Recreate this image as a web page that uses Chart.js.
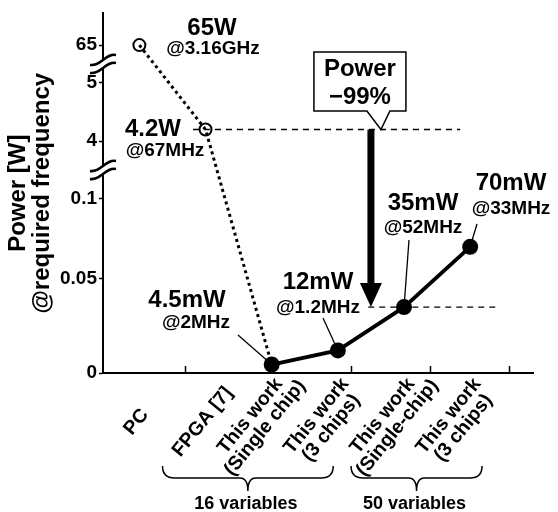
<!DOCTYPE html>
<html lang="en">
<head>
<meta charset="UTF-8">
<title>Power comparison</title>
<script src="https://cdn.jsdelivr.net/npm/chart.js@4"></script>
<style>
  body { margin: 0; background: #fff; }
  #wrap { width: 558px; height: 512px; position: relative; }
</style>
</head>
<body>
<div id="wrap"><canvas id="powerChart"></canvas></div>
<script>
// data
const categories = [['PC'], ['FPGA [7]'], ['This work', '(Single chip)'], ['This work', '(3 chips)'],
                    ['This work', '(Single-chip)'], ['This work', '(3 chips)']];
const conventionalPower = [65, 4.2, 0.0045, null, null, null];   // W
const thisWorkPower = [null, null, 0.0045, 0.012, 0.035, 0.07];  // W
const powerLabels = ['65W', '4.2W', '4.5mW', '12mW', '35mW', '70mW'];
const freqLabels = ['@3.16GHz', '@67MHz', '@2MHz', '@1.2MHz', '@52MHz', '@33MHz'];
const yTicks = [0, 0.05, 0.1, 4, 5, 65];
const groupNames = ['16 variables', '50 variables'];

Chart.defaults.font.family = '"Liberation Sans", Arial, sans-serif';

// broken y axis: value -> fraction of axis height
const yBreakMap = [[0, 0], [0.05, 0.2617], [0.1, 0.4848], [4, 0.6446], [5, 0.8072], [65, 0.9118], [80, 1]];

class BrokenScale extends Chart.LinearScale {
  getPixelForValue(value) {
    if (value === null || value === undefined || isNaN(value)) return NaN;
    const m = yBreakMap;
    let f = value <= m[0][0] ? m[0][1] : m[m.length - 1][1];
    for (let i = 1; i < m.length; i++) {
      if (value >= m[i - 1][0] && value <= m[i][0]) {
        f = m[i - 1][1] + (value - m[i - 1][0]) / (m[i][0] - m[i - 1][0]) * (m[i][1] - m[i - 1][1]);
        break;
      }
    }
    return this.getPixelForDecimal(f);
  }
  getValueForPixel(pixel) {
    const f = this.getDecimalForPixel(pixel);
    const m = yBreakMap;
    for (let i = 1; i < m.length; i++) {
      if (f <= m[i][1]) return m[i - 1][0] + (f - m[i - 1][1]) / (m[i][1] - m[i - 1][1]) * (m[i][0] - m[i - 1][0]);
    }
    return m[m.length - 1][0];
  }
}
BrokenScale.id = 'broken';
Chart.register(BrokenScale);

const xDividers = [0.7, 3.2, 4.4, 5.6];
const bold = (size) => `bold ${size}px "Liberation Sans", Arial, sans-serif`;

// text positions of the value annotations [x, y of power, x, y of freq]
const labelPos = [[212, 28, 213, 49], [153, 129, 165, 151], [187, 300, 196, 323],
                  [318, 282, 318, 308], [423, 203, 423, 228], [511, 183, 511, 209]];
const leaderFrom = [null, null, [238, 335], [323, 318], [409, 240], [477, 224]];

function drawBreak(ctx, x, y) {
  const top = (dy) => [[x - 13, y + 5 + dy], [x - 3, y + 7 + dy], [x + 3, y - 7 + dy], [x + 13, y - 5 + dy]];
  const a = top(-4), b = top(4);
  ctx.save();
  ctx.fillStyle = '#fff';
  ctx.beginPath();
  ctx.moveTo(...a[0]); ctx.bezierCurveTo(...a[1], ...a[2], ...a[3]);
  ctx.lineTo(...b[3]); ctx.bezierCurveTo(...b[2], ...b[1], ...b[0]);
  ctx.closePath();
  ctx.fill();
  ctx.strokeStyle = '#000';
  ctx.lineWidth = 2.5;
  for (const c of [a, b]) {
    ctx.beginPath();
    ctx.moveTo(...c[0]); ctx.bezierCurveTo(...c[1], ...c[2], ...c[3]);
    ctx.stroke();
  }
  ctx.restore();
}

function drawBrace(ctx, x1, x2, y) {
  const mid = (x1 + x2) / 2;
  ctx.beginPath();
  ctx.moveTo(x1, y);
  ctx.quadraticCurveTo(x1, y + 12, x1 + 12, y + 12);
  ctx.lineTo(mid - 8, y + 12);
  ctx.quadraticCurveTo(mid, y + 12, mid, y + 25);
  ctx.quadraticCurveTo(mid, y + 12, mid + 8, y + 12);
  ctx.lineTo(x2 - 12, y + 12);
  ctx.quadraticCurveTo(x2, y + 12, x2, y);
  ctx.stroke();
}

const annotate = {
  id: 'annotate',
  beforeDatasetsDraw(chart) {
    const { ctx, scales: { x, y } } = chart;
    ctx.save();
    ctx.strokeStyle = '#000';
    ctx.lineWidth = 1.3;
    ctx.setLineDash([6, 5]);
    const refs = [[conventionalPower[1], 0.81, 4.85], [thisWorkPower[4], 3.46, 5.38]];
    for (const [v, a, b] of refs) {
      ctx.beginPath();
      ctx.moveTo(x.getPixelForValue(a), y.getPixelForValue(v));
      ctx.lineTo(x.getPixelForValue(b), y.getPixelForValue(v));
      ctx.stroke();
    }
    ctx.restore();
  },
  afterDatasetsDraw(chart) {
    const { ctx, scales: { x, y } } = chart;
    ctx.save();
    ctx.fillStyle = '#000';
    ctx.strokeStyle = '#000';

    // value labels
    ctx.textAlign = 'center';
    ctx.textBaseline = 'middle';
    powerLabels.forEach((t, i) => {
      const p = labelPos[i];
      ctx.font = bold(24);
      ctx.fillText(t, p[0], p[1]);
      ctx.font = bold(19);
      ctx.fillText(freqLabels[i], p[2], p[3]);
      if (leaderFrom[i]) {
        const v = conventionalPower[i] ?? thisWorkPower[i];
        const px = x.getPixelForValue(i), py = y.getPixelForValue(thisWorkPower[i] ?? v);
        ctx.lineWidth = 1.3;
        ctx.beginPath();
        ctx.moveTo(...leaderFrom[i]);
        ctx.lineTo(px, py);
        ctx.stroke();
      }
    });

    // big arrow 4.2W -> 35mW
    const ax = x.getPixelForValue(3.5);
    const ay0 = y.getPixelForValue(conventionalPower[1]);
    const ay1 = y.getPixelForValue(thisWorkPower[4]);
    ctx.fillRect(ax - 3.5, ay0, 7, ay1 - ay0 - 22);
    ctx.beginPath();
    ctx.moveTo(ax - 11, ay1 - 24);
    ctx.lineTo(ax + 11, ay1 - 24);
    ctx.lineTo(ax, ay1);
    ctx.closePath();
    ctx.fill();

    // callout box
    const bx = ax - 57, by = 52, bw = 92, bh = 59;
    ctx.lineWidth = 1.5;
    ctx.fillStyle = '#fff';
    ctx.beginPath();
    ctx.moveTo(bx, by);
    ctx.lineTo(bx + bw, by);
    ctx.lineTo(bx + bw, by + bh);
    ctx.lineTo(ax + 19, by + bh);
    ctx.lineTo(ax + 10, ay0);
    ctx.lineTo(ax - 4, by + bh);
    ctx.lineTo(bx, by + bh);
    ctx.closePath();
    ctx.fill();
    ctx.stroke();
    ctx.fillStyle = '#000';
    ctx.font = bold(24);
    ctx.fillText('Power', bx + bw / 2, by + 17);
    ctx.fillText('\u221299%', bx + bw / 2, by + 45);

    // x category labels, rotated
    ctx.font = bold(19.5);
    categories.forEach((lines, i) => {
      const cx = x.getPixelForValue(i) + (lines.length > 1 ? -14 : -3);
      ctx.save();
      ctx.translate(cx, 422);
      ctx.rotate(-51 * Math.PI / 180);
      lines.forEach((t, k) => ctx.fillText(t, 0, (k - (lines.length - 1) / 2) * 19));
      ctx.restore();
    });

    // group braces
    ctx.lineWidth = 1.5;
    const spans = [[0.35, 2.93], [3.2, 5.18]];
    groupNames.forEach((g, i) => {
      const x1 = x.getPixelForValue(spans[i][0]), x2 = x.getPixelForValue(spans[i][1]);
      drawBrace(ctx, x1, x2, 466);
      ctx.font = bold(18);
      ctx.fillText(g, (x1 + x2) / 2 - 2, 504);
    });

    // y axis breaks
    drawBreak(ctx, y.left + y.width, (y.getPixelForValue(5) + y.getPixelForValue(65)) / 2);
    drawBreak(ctx, y.left + y.width, (y.getPixelForValue(0.1) + y.getPixelForValue(4)) / 2);
    ctx.restore();
  }
};

new Chart(document.getElementById('powerChart'), {
  type: 'line',
  data: {
    datasets: [
      {
        label: 'Conventional',
        data: conventionalPower.map((v, i) => ({ x: i, y: v })),
        borderColor: '#000',
        borderWidth: 3,
        borderDash: [3, 3.5],
        pointRadius: [6, 6, 0, 0, 0, 0],
        pointBorderWidth: 2,
        pointBorderColor: '#000',
        pointBackgroundColor: 'rgba(0,0,0,0)'
      },
      {
        label: 'This work',
        data: thisWorkPower.map((v, i) => ({ x: i, y: v })),
        borderColor: '#000',
        borderWidth: 3.8,
        pointRadius: 8,
        pointBorderWidth: 0,
        pointBackgroundColor: '#000'
      }
    ]
  },
  options: {
    responsive: true,
    maintainAspectRatio: false,
    animation: false,
    layout: { padding: { top: 10, right: 25, left: 0, bottom: 0 } },
    plugins: { legend: { display: false }, tooltip: { enabled: false } },
    scales: {
      x: {
        type: 'linear',
        min: -0.55,
        max: 5.95,
        afterBuildTicks: (s) => { s.ticks = xDividers.map(v => ({ value: v })); },
        afterFit: (s) => { s.height = 139; },
        ticks: { display: false },
        grid: { drawOnChartArea: false, tickLength: -7, tickWidth: 1.5, color: '#000' },
        border: { color: '#000', width: 2 }
      },
      y: {
        type: 'broken',
        min: 0,
        max: 80,
        afterBuildTicks: (s) => { s.ticks = yTicks.map(v => ({ value: v })); },
        afterFit: (s) => { s.width = 103; },
        ticks: { callback: (v) => String(v), color: '#000', font: { size: 19, weight: 'bold' }, padding: 2 },
        grid: { drawOnChartArea: false, tickLength: 4, tickWidth: 1.5, color: '#000' },
        border: { color: '#000', width: 2 },
        title: {
          display: true,
          text: ['Power [W]', '@required frequency'],
          color: '#000',
          font: { size: 24, weight: 'bold', lineHeight: 1.0 },
          padding: { top: 6, bottom: 0 }
        }
      }
    }
  },
  plugins: [annotate]
});
</script>
</body>
</html>
